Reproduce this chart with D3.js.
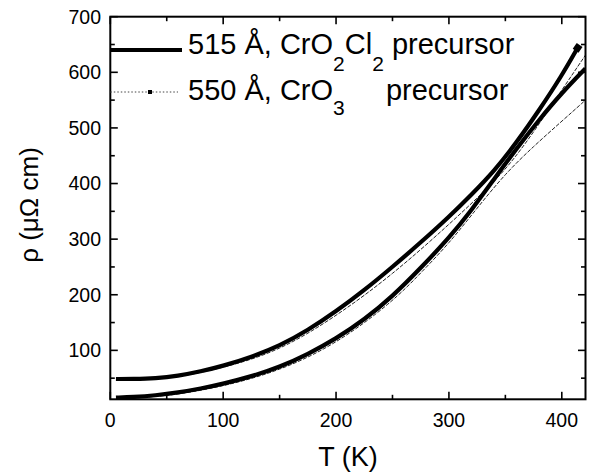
<!DOCTYPE html>
<html>
<head>
<meta charset="utf-8">
<script src="https://cdn.jsdelivr.net/npm/d3@7"></script>
<style>
  html, body { margin: 0; padding: 0; background: #fff; }
  svg { display: block; font-family: "Liberation Sans", Arial, sans-serif; }
</style>
</head>
<body>
<svg id="chart" width="590" height="474"></svg>
<script>
// ---- data ----
const xTicks = [0, 100, 200, 300, 400];
const xMinorTicks = [50, 150, 250, 350];
const yTicks = [100, 200, 300, 400, 500, 600, 700];
const yMinorTicks = [50, 150, 250, 350, 450, 550, 650];

// thick curve with residual ~48 (ends ~645 with a cluster of points)
const curveA_T   = [5, 20, 40, 60, 80, 100, 125, 150, 175, 200, 225, 250, 275, 300, 320, 340, 360, 380, 400, 414];
const curveA_rho = [48.5, 48.5, 49.5, 54, 62, 72, 88, 108, 136, 170, 208, 250, 294, 340, 380, 422, 474, 532, 594, 644];

// thick solid curve with residual ~15 (ends ~607)
const curveB_T   = [5, 20, 40, 60, 80, 100, 125, 150, 175, 200, 225, 250, 275, 300, 320, 340, 360, 380, 400, 421];
const curveB_rho = [15, 16, 19, 24, 31, 40, 53, 70, 93, 121, 155, 197, 248, 302, 352, 408, 463, 515, 563, 607];

// thin dotted curve following curve A
const fitA_T   = [5, 50, 100, 150, 200, 250, 300, 340, 360, 380, 400, 421];
const fitA_rho = [46, 47.5, 68, 99, 161, 236, 326, 402, 450, 507, 568, 631];

// thin dotted curve following curve B
const fitB_T   = [5, 50, 100, 150, 200, 250, 275, 300, 325, 350, 375, 400, 421];
const fitB_rho = [13, 17, 35, 63, 111, 187, 239, 292, 356, 418, 467, 512, 550];

const legendLabels = ["515 Å, CrO", "550 Å, CrO"];

// ---- chart ----
const svg = d3.select("#chart");
const x = d3.scaleLinear().domain([0, 421]).range([110.3, 585.5]);
const y = d3.scaleLinear().domain([12, 700]).range([399.3, 16.7]);
const X0 = x.range()[0], X1 = x.range()[1], Y0 = y.range()[0], Y1 = y.range()[1];

const zip = (a, b) => a.map((t, i) => [t, b[i]]);
const line = d3.line().x(d => x(d[0])).y(d => y(d[1])).curve(d3.curveBasis);

svg.append("clipPath").attr("id", "clip")
  .append("rect").attr("x", X0).attr("y", Y1).attr("width", X1 - X0).attr("height", Y0 - Y1);
const plot = svg.append("g").attr("clip-path", "url(#clip)");

// thin dotted curves
[zip(fitA_T, fitA_rho), zip(fitB_T, fitB_rho)].forEach(d => {
  plot.append("path").datum(d).attr("d", line)
    .attr("fill", "none").attr("stroke", "#222").attr("stroke-width", 1)
    .attr("stroke-dasharray", "4,1.5");
});
// thick curves
plot.append("path").datum(zip(curveB_T, curveB_rho)).attr("d", line)
  .attr("fill", "none").attr("stroke", "#000").attr("stroke-width", 4.2);
plot.append("path").datum(zip(curveA_T, curveA_rho)).attr("d", line)
  .attr("fill", "none").attr("stroke", "#000").attr("stroke-width", 4.2);
// end marker of curve A
const lastA = [curveA_T[curveA_T.length - 1], curveA_rho[curveA_rho.length - 1]];
plot.append("rect")
  .attr("x", x(lastA[0]) - 3.5).attr("y", y(lastA[1]) - 3.5)
  .attr("width", 7).attr("height", 7).attr("fill", "#000")
  .attr("transform", `rotate(-55 ${x(lastA[0])} ${y(lastA[1])})`);

// frame
svg.append("rect").attr("x", X0).attr("y", Y1).attr("width", X1 - X0).attr("height", Y0 - Y1)
  .attr("fill", "none").attr("stroke", "#000").attr("stroke-width", 2);

// ticks (inward on all sides)
const tk = svg.append("g").attr("stroke", "#000").attr("stroke-width", 1.6);
xTicks.forEach(t => {
  tk.append("line").attr("x1", x(t)).attr("x2", x(t)).attr("y1", Y0).attr("y2", Y0 - 7.5);
  tk.append("line").attr("x1", x(t)).attr("x2", x(t)).attr("y1", Y1).attr("y2", Y1 + 7.5);
});
xMinorTicks.forEach(t => {
  tk.append("line").attr("x1", x(t)).attr("x2", x(t)).attr("y1", Y0).attr("y2", Y0 - 4.5);
  tk.append("line").attr("x1", x(t)).attr("x2", x(t)).attr("y1", Y1).attr("y2", Y1 + 4.5);
});
yTicks.forEach(v => {
  tk.append("line").attr("y1", y(v)).attr("y2", y(v)).attr("x1", X0).attr("x2", X0 + 7.5);
  tk.append("line").attr("y1", y(v)).attr("y2", y(v)).attr("x1", X1).attr("x2", X1 - 7.5);
});
yMinorTicks.forEach(v => {
  tk.append("line").attr("y1", y(v)).attr("y2", y(v)).attr("x1", X0).attr("x2", X0 + 4.5);
  tk.append("line").attr("y1", y(v)).attr("y2", y(v)).attr("x1", X1).attr("x2", X1 - 4.5);
});

// tick labels
svg.selectAll("text.xt").data(xTicks).enter().append("text")
  .attr("x", d => x(d)).attr("y", 426.5).attr("text-anchor", "middle")
  .attr("font-size", 19.5).text(d => d);
svg.selectAll("text.yt").data(yTicks).enter().append("text")
  .attr("x", 101).attr("y", d => y(d) + 6.8).attr("text-anchor", "end")
  .attr("font-size", 19.5).text(d => d);

// axis titles
svg.append("text").attr("x", 348).attr("y", 466).attr("text-anchor", "middle")
  .attr("font-size", 27).text("T (K)");
svg.append("text").attr("transform", "translate(38,205) rotate(-90)")
  .attr("text-anchor", "middle").attr("font-size", 26).text("ρ (μΩ cm)");

// legend
svg.append("line").attr("x1", X0).attr("x2", 182).attr("y1", 50).attr("y2", 50)
  .attr("stroke", "#000").attr("stroke-width", 4);
svg.append("line").attr("x1", X0).attr("x2", 178).attr("y1", 92).attr("y2", 92)
  .attr("stroke", "#444").attr("stroke-width", 1).attr("stroke-dasharray", "1.5,2");
svg.append("rect").attr("x", 148).attr("y", 90).attr("width", 4).attr("height", 4).attr("fill", "#000");

const l1 = svg.append("text").attr("x", 188).attr("y", 53.5).attr("font-size", 29);
l1.append("tspan").text(legendLabels[0]);
l1.append("tspan").attr("dy", 17).attr("font-size", 21).text("2");
l1.append("tspan").attr("dy", -17).text("Cl");
l1.append("tspan").attr("dy", 17).attr("font-size", 21).text("2");
l1.append("tspan").attr("dy", -17).text(" precursor");

const l2 = svg.append("text").attr("x", 188).attr("y", 100).attr("font-size", 29);
l2.append("tspan").text(legendLabels[1]);
l2.append("tspan").attr("dy", 15).attr("font-size", 21).text("3");
const pre2 = l2.append("tspan").attr("dy", -15).text("precursor");
// align second "precursor" slightly left of the first one
const n1 = l1.node();
const idx = n1.getNumberOfChars() - "precursor".length;
const px1 = n1.getStartPositionOfChar(idx).x;
pre2.attr("x", px1 - 6);
</script>
</body>
</html>
